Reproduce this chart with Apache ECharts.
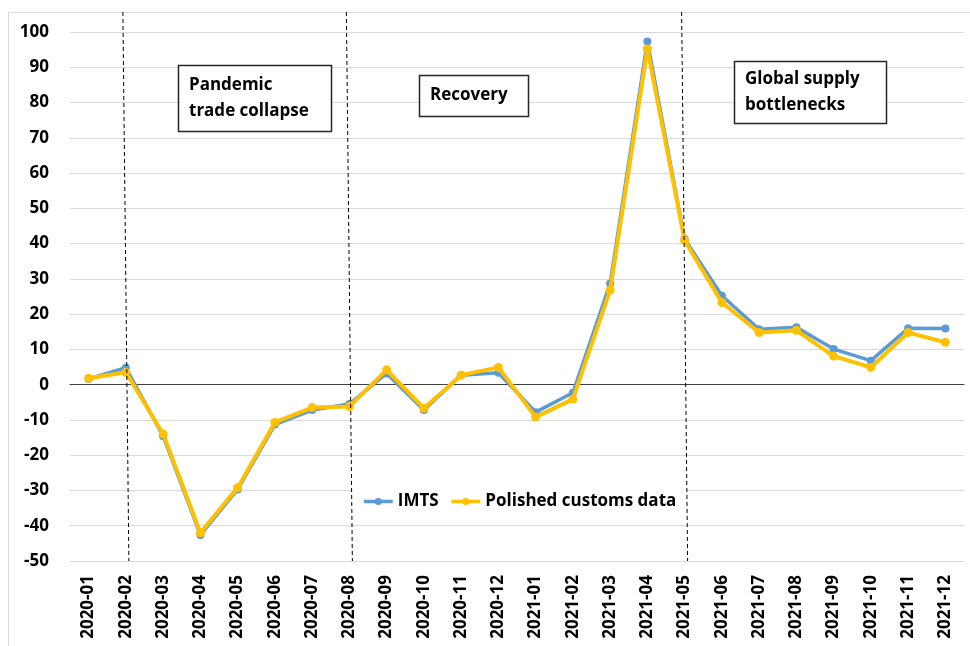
<!DOCTYPE html>
<html>
<head>
<meta charset="utf-8">
<script src="https://cdn.jsdelivr.net/npm/echarts@6/dist/echarts.min.js"></script>
<style>
  html, body { margin: 0; padding: 0; background: #fff; }
  #chart { width: 970px; height: 646px; }
</style>
</head>
<body>
<div id="chart"></div>
<script>
// Monthly year-on-year change, %
const months = [
  '2020-01','2020-02','2020-03','2020-04','2020-05','2020-06','2020-07','2020-08',
  '2020-09','2020-10','2020-11','2020-12','2021-01','2021-02','2021-03','2021-04',
  '2021-05','2021-06','2021-07','2021-08','2021-09','2021-10','2021-11','2021-12'
];
const imts = [
  1.6, 4.8, -14.6, -42.6, -29.7, -11.3, -7.2, -5.5,
  3.2, -7.2, 2.7, 3.4, -7.8, -2.3, 28.7, 97.3,
  41.3, 25.2, 15.7, 16.3, 10.1, 6.8, 16.0, 15.9
];
const polished = [
  1.8, 3.5, -14.0, -42.0, -29.2, -10.7, -6.5, -6.2,
  4.2, -6.7, 2.7, 4.9, -9.2, -4.1, 26.8, 95.2,
  40.9, 23.3, 14.8, 15.4, 8.1, 4.9, 14.8, 12.0
];
const seriesNames = ['IMTS', 'Polished customs data'];
// Months where a new phase begins
const phaseBreaks = ['2020-02', '2020-08', '2021-05'];
const phaseTitles = ['Pandemic\ntrade collapse', 'Recovery', 'Global supply\nbottlenecks'];

const FONT = '"Open Sans", "DejaVu Sans", sans-serif';
const chart = echarts.init(document.getElementById('chart'), null, { renderer: 'canvas' });

chart.setOption({
  backgroundColor: '#ffffff',
  animation: false,
  textStyle: { fontFamily: FONT },
  grid: { left: 70, right: 6, top: 32, bottom: 85 },
  legend: {
    data: seriesNames,
    left: 352,
    top: 490,
    padding: [3, 10],
    itemGap: 11,
    itemWidth: 29,
    itemHeight: 9,
    backgroundColor: '#ffffff',
    lineStyle: { width: 3.5 },
    textStyle: { fontFamily: FONT, fontWeight: 'bold', fontSize: 17, color: '#000' }
  },
  xAxis: {
    type: 'category',
    data: months,
    boundaryGap: true,
    axisLine: { onZero: true, lineStyle: { color: '#404040', width: 1 } },
    axisTick: { show: false },
    axisLabel: {
      rotate: 90,
      interval: 0,
      margin: 14,
      color: '#000',
      fontFamily: FONT,
      fontWeight: 'bold',
      fontSize: 17
    }
  },
  yAxis: {
    type: 'value',
    min: -50,
    max: 100,
    interval: 10,
    axisLine: { show: false },
    axisTick: { show: false },
    axisLabel: {
      margin: 21,
      color: '#000',
      fontFamily: FONT,
      fontWeight: 'bold',
      fontSize: 17
    },
    splitLine: { lineStyle: { color: '#d9d9d9', width: 1 } }
  },
  series: [
    {
      name: seriesNames[0],
      type: 'line',
      data: imts,
      symbol: 'circle',
      symbolSize: 8,
      color: '#5b9bd5',
      lineStyle: { width: 3.5, color: '#5b9bd5' },
      z: 2
    },
    {
      name: seriesNames[1],
      type: 'line',
      data: polished,
      symbol: 'circle',
      symbolSize: 9,
      color: '#ffc000',
      lineStyle: { width: 4, color: '#ffc000' },
      z: 3
    }
  ]
});

// Chart frame, phase dividers and phase captions
const bottomY = chart.convertToPixel({ yAxisIndex: 0 }, -50);
const frameTop = 12;
const graphics = [
  {
    type: 'rect',
    silent: true,
    shape: { x: 8.5, y: frameTop + 0.5, width: 1000, height: 1000 },
    style: { fill: null, stroke: '#d9d9d9', lineWidth: 1 },
    z: 0
  }
];
phaseBreaks.forEach(function (m) {
  const x = chart.convertToPixel({ xAxisIndex: 0 }, m);
  graphics.push({
    type: 'line',
    silent: true,
    shape: { x1: x - 3, y1: frameTop, x2: x + 3, y2: bottomY },
    style: { stroke: '#000', lineWidth: 1, lineDash: [4, 3] },
    z: 10
  });
});

const boxes = [
  { x: 178, y: 65, w: 153, h: 66 },
  { x: 419, y: 75, w: 109, h: 41 },
  { x: 734, y: 61, w: 152, h: 62 }
];
boxes.forEach(function (b, i) {
  const lines = phaseTitles[i].split('\n').length;
  const lh = 26;
  graphics.push({
    type: 'rect',
    silent: true,
    shape: { x: b.x + 0.5, y: b.y + 0.5, width: b.w, height: b.h },
    style: { fill: '#ffffff', stroke: '#262626', lineWidth: 1.5 },
    z: 20
  });
  graphics.push({
    type: 'text',
    silent: true,
    x: b.x + 11,
    y: b.y + b.h / 2 - (lines * lh) / 2,
    style: {
      text: phaseTitles[i],
      font: 'bold 17px ' + FONT,
      fill: '#000',
      lineHeight: lh,
      verticalAlign: 'top',
      align: 'left'
    },
    z: 21
  });
});

chart.setOption({ graphic: graphics });
</script>
</body>
</html>
